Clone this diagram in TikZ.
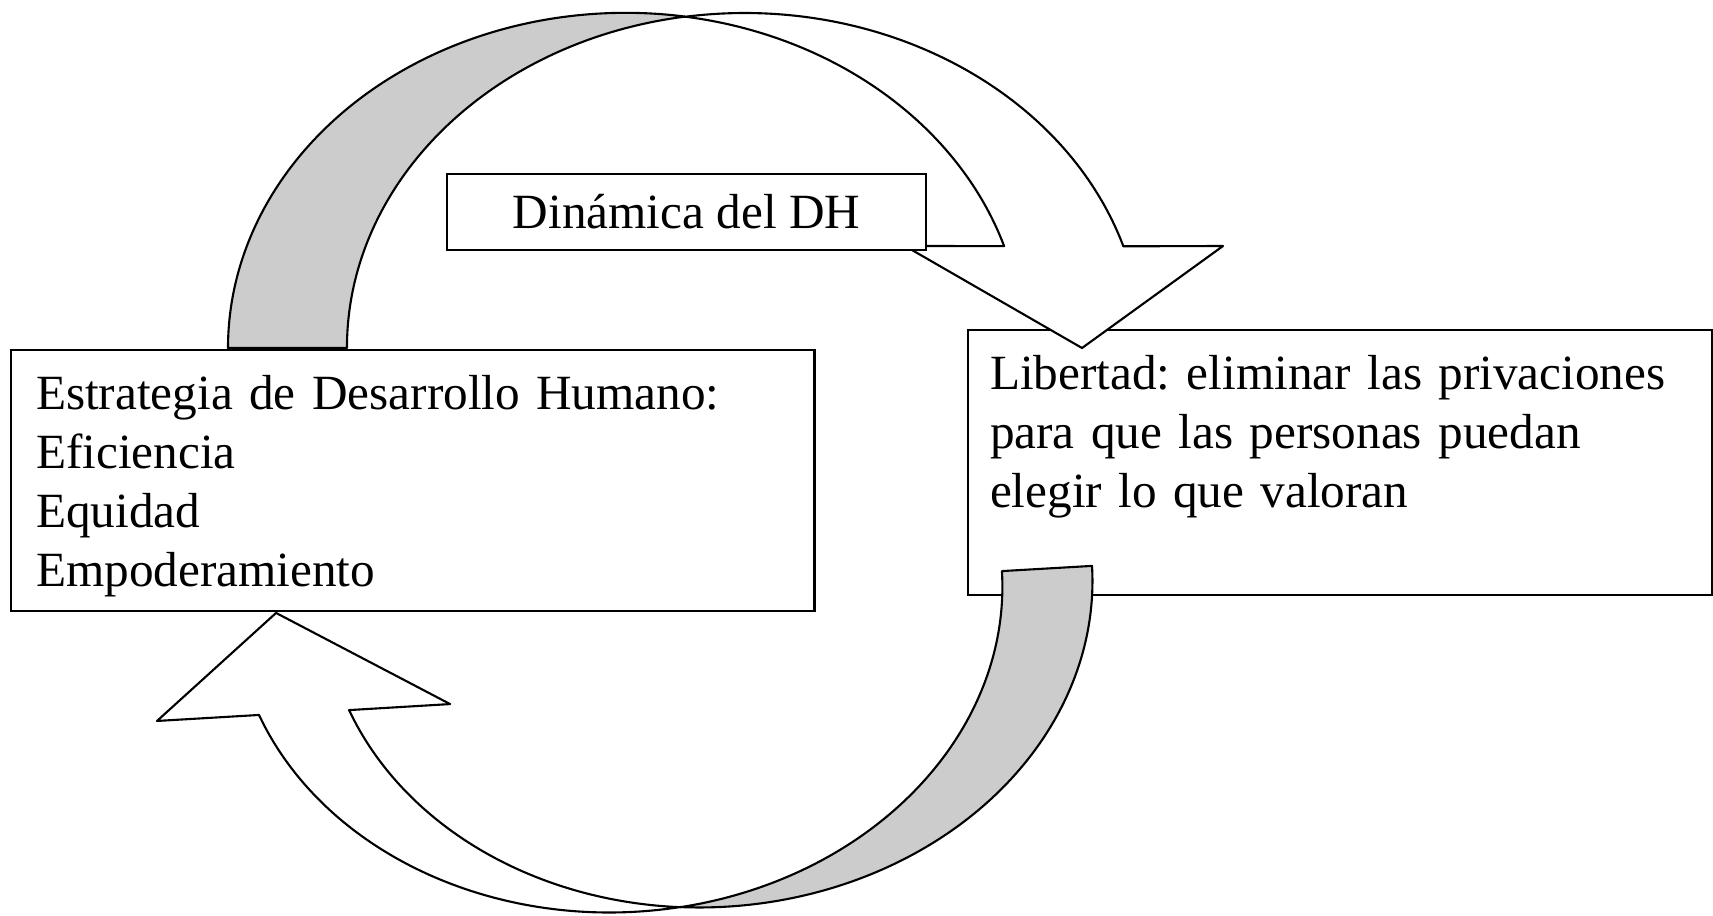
\documentclass[tikz,border=0pt]{standalone}
\usepackage{fontspec}
\setmainfont{Liberation Serif}
\frenchspacing
\definecolor{bandgray}{RGB}{204,204,204}
\tikzset{
  box/.style={draw, fill=white, line width=0.6pt, font=\fontsize{14}{16.8}\selectfont},
  textbox/.style={box, anchor=north west, align=left, inner ysep=0.25cm, text height=0.34cm},
  band/.style={draw, line width=0.6pt, line join=round},
  upperring/.style={x radius=3.975cm, y radius=3.35cm},
  lowerring/.style={x radius=3.848cm, y radius=3.19cm}
}
\begin{document}
\begin{tikzpicture}[x=0.01cm, y=-0.01cm]
  \useasboundingbox (0,0) rectangle (1713,915);
  \path
    (10,349) node[textbox, inner xsep=0.25cm, text width=7.53cm, text depth=1.77cm] (estrategia)
      {Estrategia de Desarrollo Humano:\\Eficiencia\\Equidad\\Empoderamiento}
    (967,329) node[textbox, inner xsep=0.22cm, text width=7.0cm, text depth=1.81cm] (libertad)
      {Libertad: eliminar las privaciones\\para que las personas puedan\\elegir lo que valoran};
  \begin{scope}[band]
    \filldraw[fill=bandgray] (228,348) arc[start angle=180, end angle=81.4, upperring]
      arc[start angle=98.6, end angle=180, upperring] -- cycle;
    \filldraw[fill=white] (685,16.8) arc[start angle=98.6, end angle=17.7, upperring]
      -- (1223,246) -- (1082,348) -- (905,246) -- (1004.1,246.1)
      arc[start angle=17.7, end angle=81.4, upperring] -- cycle;
  \end{scope}
  \begin{scope}[band, rotate around={3.3:(656,575)}]
    \filldraw[fill=bandgray] (1001.6,591) arc[start angle=0, end angle=-83.27, lowerring]
      arc[start angle=-96.73, end angle=0, lowerring] -- cycle;
    \filldraw[fill=white] (661.9,907.8) arc[start angle=-83.27, end angle=-161.54, lowerring]
      -- (149.4,692) -- (274.5,591) -- (443,692) -- (341.8,692.2)
      arc[start angle=-161.54, end angle=-96.73, lowerring] -- cycle;
  \end{scope}
  \path (686.5,212) node[box, minimum width=4.79cm, minimum height=0.76cm, inner sep=0pt] (dinamica)
    {Dinámica del DH};
\end{tikzpicture}
\end{document}
